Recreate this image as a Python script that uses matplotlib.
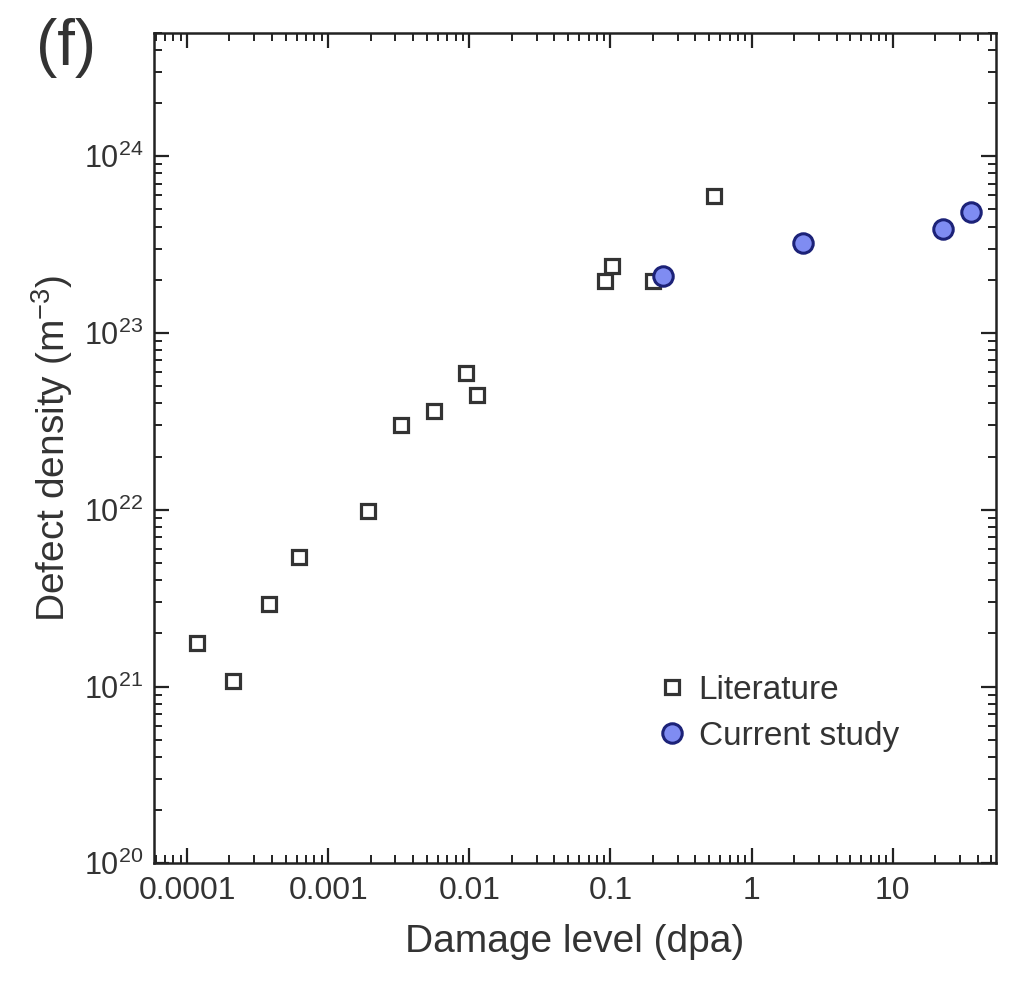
import matplotlib
matplotlib.use("Agg")
import matplotlib.pyplot as plt
from matplotlib.ticker import LogLocator, FixedLocator, FixedFormatter, NullFormatter

plt.rcParams['font.family'] = ['Liberation Sans', 'DejaVu Sans']
plt.rcParams['mathtext.fontset'] = 'custom'
plt.rcParams['mathtext.rm'] = 'Liberation Sans'
plt.rcParams['mathtext.it'] = 'Liberation Sans'
plt.rcParams['mathtext.default'] = 'regular'

# Literature data
lit_x = [1.18e-4, 2.12e-4, 3.82e-4, 6.2e-4, 1.92e-3, 3.3e-3, 5.65e-3, 9.4e-3, 1.14e-2,
         0.092, 0.103, 0.20, 0.54]
lit_y = [1.76e21, 1.07e21, 2.93e21, 5.42e21, 9.9e21, 3.0e22, 3.64e22, 5.97e22, 4.43e22,
         1.98e23, 2.38e23, 1.98e23, 5.93e23]

# Current study data
cur_x = [0.234, 2.30, 22.6, 35.7]
cur_y = [2.09e23, 3.21e23, 3.9e23, 4.82e23]

x_ticks = [1e-4, 1e-3, 1e-2, 1e-1, 1, 10]
x_ticklabels = ['0.0001', '0.001', '0.01', '0.1', '1', '10']
y_ticks = [1e20, 1e21, 1e22, 1e23, 1e24]
y_ticklabels = ['$10^{20}$', '$10^{21}$', '$10^{22}$', '$10^{23}$', '$10^{24}$']

txt = '#333333'

fig = plt.figure(figsize=(10.13, 9.9), dpi=100)
ax = fig.add_axes([0.152, 0.128, 0.831, 0.839])

ax.plot(lit_x, lit_y, linestyle='none', marker='s', markersize=10.5,
        markerfacecolor='white', markeredgecolor='#333333', markeredgewidth=2.3,
        label='Literature', zorder=3)
ax.plot(cur_x, cur_y, linestyle='none', marker='o', markersize=14,
        markerfacecolor='#7f8cf2', markeredgecolor='#1c2278', markeredgewidth=2.2,
        label='Current study', zorder=4)

ax.set_xscale('log')
ax.set_yscale('log')
ax.set_xlim(10**-4.234, 10**1.73)
ax.set_ylim(1e20, 5e24)

ax.xaxis.set_major_locator(FixedLocator(x_ticks))
ax.xaxis.set_major_formatter(FixedFormatter(x_ticklabels))
ax.xaxis.set_minor_locator(LogLocator(base=10, subs=range(2, 10), numticks=20))
ax.xaxis.set_minor_formatter(NullFormatter())
ax.yaxis.set_major_locator(FixedLocator(y_ticks))
ax.yaxis.set_major_formatter(FixedFormatter(y_ticklabels))
ax.yaxis.set_minor_locator(LogLocator(base=10, subs=range(2, 10), numticks=20))
ax.yaxis.set_minor_formatter(NullFormatter())

ax.tick_params(which='both', direction='in', top=True, right=True, colors='#222222',
               labelcolor=txt)
ax.tick_params(which='major', length=11, width=1.6, pad=8)
ax.tick_params(which='minor', length=6, width=1.4)
ax.tick_params(axis='x', which='major', labelsize=23, pad=9)
ax.tick_params(axis='y', which='major', labelsize=22, pad=8)

for s in ax.spines.values():
    s.set_linewidth(1.8)
    s.set_color('#222222')

ax.set_xlabel('Damage level (dpa)', fontsize=28, color=txt, labelpad=13)
ax.set_ylabel('Defect density (m$^{-3}$)', fontsize=28, color=txt, labelpad=6)

leg = ax.legend(loc='lower left', bbox_to_anchor=(0.562, 0.098), frameon=False,
                fontsize=24, handletextpad=0.35, labelspacing=0.45,
                handlelength=0.9, labelcolor=txt)

fig.text(0.036, 1 - 18 / 990, '(f)', fontsize=46, color=txt, va='top')

fig.savefig('out.png', dpi=100)
